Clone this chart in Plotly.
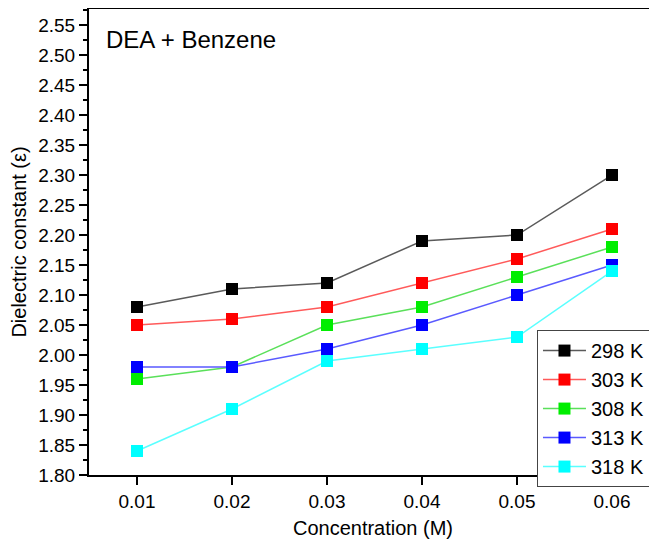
import plotly.graph_objects as go

concentration = [0.01, 0.02, 0.03, 0.04, 0.05, 0.06]
series_names = ["298 K", "303 K", "308 K", "313 K", "318 K"]
eps_298 = [2.08, 2.11, 2.12, 2.19, 2.20, 2.30]
eps_303 = [2.05, 2.06, 2.08, 2.12, 2.16, 2.21]
eps_308 = [1.96, 1.98, 2.05, 2.08, 2.13, 2.18]
eps_313 = [1.98, 1.98, 2.01, 2.05, 2.10, 2.15]
eps_318 = [1.84, 1.91, 1.99, 2.01, 2.03, 2.14]
y_tick_vals = [1.80, 1.85, 1.90, 1.95, 2.00, 2.05, 2.10, 2.15, 2.20, 2.25,
               2.30, 2.35, 2.40, 2.45, 2.50, 2.55]
x_tick_vals = [0.01, 0.02, 0.03, 0.04, 0.05, 0.06]

all_series = [eps_298, eps_303, eps_308, eps_313, eps_318]
line_colors = ["#5a5a5a", "#ff5a5a", "#5ae05a", "#5a5aff", "#5affff"]
marker_colors = ["#000000", "#ff0000", "#00ee00", "#0000ff", "#00ffff"]

FONT = "Liberation Sans, Arial, Helvetica, sans-serif"

fig = go.Figure()
for name, vals, lc, mc in zip(series_names, all_series, line_colors, marker_colors):
    fig.add_trace(go.Scatter(
        x=concentration, y=vals, name=name, mode="lines+markers",
        line=dict(color=lc, width=1.5),
        marker=dict(symbol="square", size=12, color=mc, line=dict(width=0)),
    ))

# page body has an 8px margin, so the figure is sized/offset to compensate
fig.update_layout(
    width=649, height=535,
    margin=dict(l=81, r=0, t=1, b=68),
    paper_bgcolor="white", plot_bgcolor="white",
    font=dict(family=FONT, size=19, color="black"),
    showlegend=True,
    legend=dict(
        x=0.7887, y=0.311, xanchor="left", yanchor="top",
        bordercolor="#444444", borderwidth=1, bgcolor="white",
        font=dict(family=FONT, size=20, color="black"),
        tracegroupgap=0, itemwidth=43,
    ),
    annotations=[dict(
        x=0.027, y=0.967, xref="paper", yref="paper", xanchor="left", yanchor="top",
        text="DEA + Benzene", showarrow=False,
        font=dict(family=FONT, size=24, color="black"),
    )],
)

fig.update_xaxes(
    range=[0.004947, 0.064737], tickvals=x_tick_vals,
    ticktext=[f"{v:.2f}" for v in x_tick_vals],
    showgrid=False, zeroline=False, automargin=False,
    showline=True, linecolor="black", linewidth=2, mirror=True,
    ticks="outside", ticklen=8, tickwidth=2, tickcolor="black",
    title=dict(text="Concentration (M)", font=dict(family=FONT, size=20), standoff=10),
    tickfont=dict(family=FONT, size=19),
)
fig.update_yaxes(
    range=[1.80, 2.5767], tickvals=y_tick_vals,
    ticktext=[f"{v:.2f}" for v in y_tick_vals],
    showgrid=False, zeroline=False, automargin=False,
    showline=True, linecolor="black", linewidth=2,
    ticks="outside", ticklen=8, tickwidth=2, tickcolor="black",
    minor=dict(ticks="outside", ticklen=4, tickwidth=2, tickcolor="black", dtick=0.025, tick0=1.80),
    title=dict(text="Dielectric constant (ε)", font=dict(family=FONT, size=20), standoff=8),
    tickfont=dict(family=FONT, size=19),
)

fig.write_html("out.html")
